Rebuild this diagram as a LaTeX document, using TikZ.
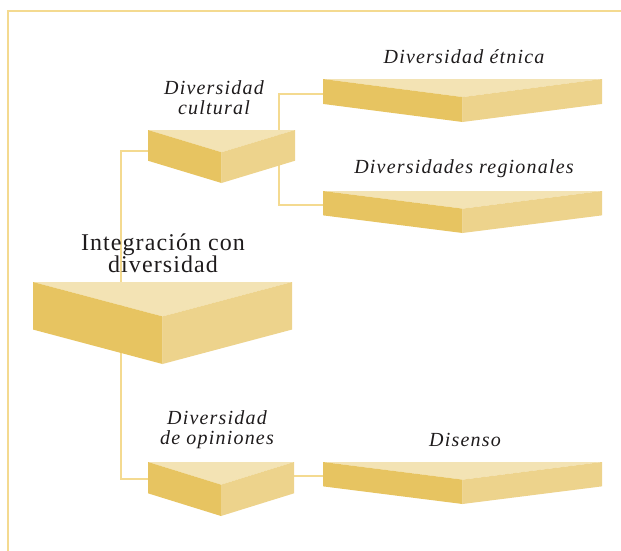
\documentclass[tikz,border=0pt]{standalone}
\usepackage{fontspec}
\setmainfont{Liberation Serif}
\newfontfamily\fonterotulo{Liberation Serif}[LetterSpace=6]
\newfontfamily\fontetitulo{Liberation Serif}[LetterSpace=4.5]
\usepackage{tikz}
\usetikzlibrary{calc}
\definecolor{corlinha}{RGB}{244,218,144}
\definecolor{cortopo}{RGB}{243,227,180}
\definecolor{coresquerda}{RGB}{231,196,97}
\definecolor{cordireita}{RGB}{237,211,140}
\definecolor{cortexto}{RGB}{30,27,28}

\tikzset{
  bloco/.style={inner sep=0pt, outer sep=0pt},
  rotulo/.style={align=center, text=cortexto, inner sep=0pt,
    font=\fonterotulo\itshape\fontsize{20}{20}\selectfont},
  titulo/.style={align=center, text=cortexto, inner sep=0pt,
    font=\fontetitulo\fontsize{24}{22}\selectfont},
  ligacao/.style={corlinha, line width=1.5pt}
}

% faces do prisma desenhadas dentro do no
\newcommand{\prisma}[1]{%
  \fill[cortopo] (#1.north west) -- (#1.north east) -- ($(#1.north)!.42!(#1.south)$) -- cycle;
  \fill[coresquerda] (#1.north west) -- ($(#1.north)!.42!(#1.south)$) -- (#1.south)
    -- ($(#1.north west)!.58!(#1.south west)$) -- cycle;
  \fill[cordireita] (#1.north east) -- ($(#1.north)!.42!(#1.south)$) -- (#1.south)
    -- ($(#1.north east)!.58!(#1.south east)$) -- cycle;
}

\begin{document}
\begin{tikzpicture}[x=1pt, y=-1pt]
  \useasboundingbox (0,0) rectangle (621,551);
  \draw[ligacao] (8,551) |- (621,11);

  % blocos
  \node[bloco, minimum width=147pt, minimum height=53pt] (cultural) at (221.5,156.5) {};
  \node[bloco, minimum width=259pt, minimum height=82pt] (integracao) at (162.5,323) {};
  \node[bloco, minimum width=146pt, minimum height=54pt] (opinioes) at (221,489) {};
  \node[bloco, minimum width=279pt, minimum height=43pt] (etnica) at (462.5,100.5) {};
  \node[bloco, minimum width=279pt, minimum height=42pt] (regionais) at (462.5,212) {};
  \node[bloco, minimum width=279pt, minimum height=42pt] (disenso) at (462.5,483) {};

  % ligacoes
  \draw[ligacao] ([yshift=-21pt]cultural.north west) -- ++(-27,0)
    |- ([yshift=-17pt]opinioes.north west);
  \draw[ligacao] ([yshift=-15pt]etnica.north west) -- ++(-44,0)
    |- ([yshift=-14pt]regionais.north west);
  \draw[ligacao] ([yshift=-14pt]opinioes.north east) -- ([yshift=-14pt]disenso.north west);

  \prisma{cultural}
  \prisma{integracao}
  \prisma{opinioes}
  \prisma{etnica}
  \prisma{regionais}
  \prisma{disenso}

  % textos
  \node[titulo] (txtintegracao) at (163,253) {Integración con\\diversidad};
  \node[rotulo] (txtcultural) at (214,98) {Diversidad\\cultural};
  \node[rotulo] (txtopinioes) at (217,430) {Diversidad\\de opiniones};
  \node[rotulo] (txtetnica) at (464,57) {Diversidad étnica};
  \node[rotulo] (txtregionais) at (464,169) {Diversidades regionales};
  \node[rotulo] (txtdisenso) at (465,440) {Disenso};
\end{tikzpicture}
\end{document}
